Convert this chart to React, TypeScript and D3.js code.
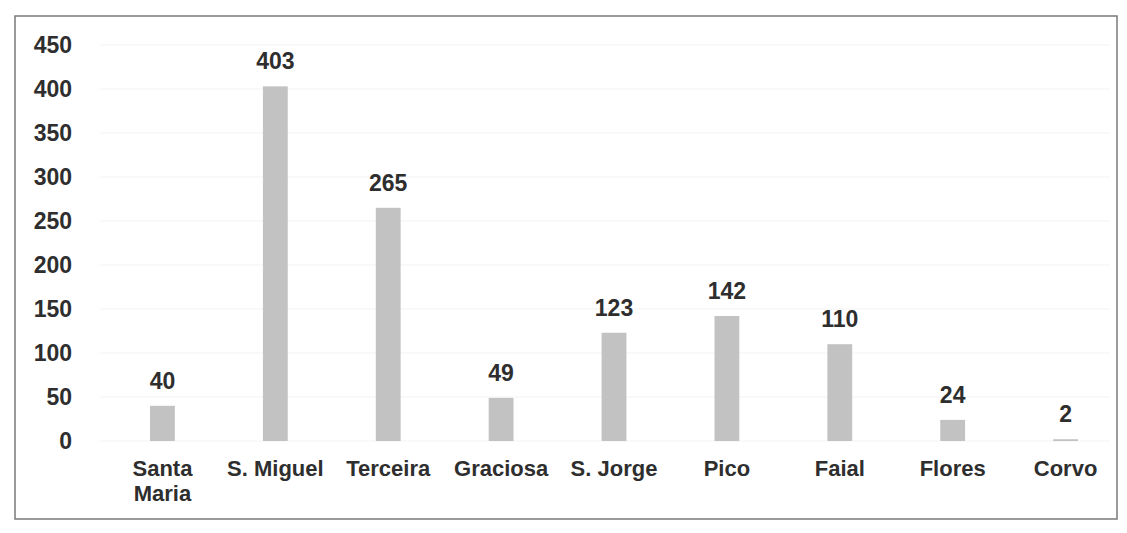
import React from "react";
import * as d3 from "d3";

const categories = ["Santa Maria", "S. Miguel", "Terceira", "Graciosa", "S. Jorge", "Pico", "Faial", "Flores", "Corvo"];
const values = [40, 403, 265, 49, 123, 142, 110, 24, 2];
const yTicks = [0, 50, 100, 150, 200, 250, 300, 350, 400, 450];

const W = 1127;
const H = 533;

export default function App() {
  const x = d3.scaleBand<string>().domain(categories).range([106, 1122]).paddingInner(0.78).paddingOuter(0.39);
  const y = d3.scaleLinear().domain([0, 450]).range([441, 45]);
  const font = "'Liberation Sans', Arial, sans-serif";
  const splitLabel = (c: string) => (c === "Santa Maria" ? ["Santa", "Maria"] : [c]);

  return (
    <svg width={W} height={H} style={{ position: "absolute", left: 0, top: 0, background: "#fff" }} fontFamily={font}>
      <rect x={0} y={0} width={W} height={H} fill="#fff" />
      <rect x={15} y={16} width={1102} height={503} fill="none" stroke="#7a7a7a" strokeWidth={1.5} />
      {yTicks.map((t) => (
        <line key={"g" + t} x1={100} x2={1110} y1={y(t)} y2={y(t)} stroke="#f3f3f3" strokeWidth={1} />
      ))}
      {yTicks.map((t) => (
        <text key={"t" + t} x={72} y={y(t)} dy="0.35em" textAnchor="end" fontSize={23} fontWeight="bold" fill="#2e2e2e">
          {t}
        </text>
      ))}
      {categories.map((c, i) => {
        const bx = x(c)!;
        const bw = x.bandwidth();
        const cx = bx + bw / 2;
        return (
          <g key={c}>
            <rect x={bx} y={y(values[i])} width={bw} height={y(0) - y(values[i])} fill="#c2c2c2" />
            <text x={cx} y={y(values[i]) - 17} textAnchor="middle" fontSize={23} fontWeight="bold" fill="#2e2e2e">
              {values[i]}
            </text>
            {splitLabel(c).map((ln, j) => (
              <text key={j} x={cx} y={476 + j * 25} textAnchor="middle" fontSize={22} fontWeight="bold" fill="#2e2e2e">
                {ln}
              </text>
            ))}
          </g>
        );
      })}
    </svg>
  );
}
